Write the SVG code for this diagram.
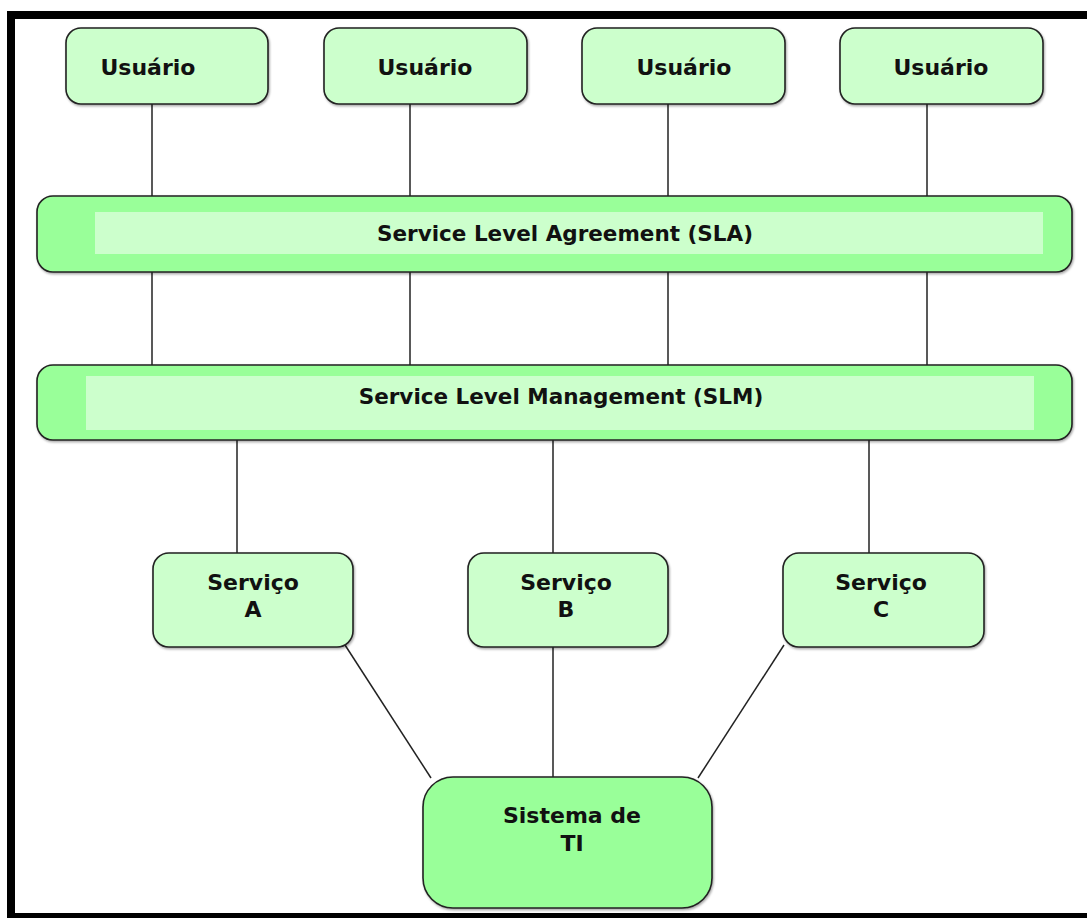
<svg xmlns="http://www.w3.org/2000/svg" width="1087" height="918" viewBox="0 0 1087 918">
  <defs>
    <filter id="shadow" x="-5%" y="-5%" width="110%" height="115%">
      <feDropShadow dx="1" dy="1.5" stdDeviation="1" flood-color="#000" flood-opacity="0.35"/>
    </filter>
    <style>
      .light { fill: #CCFFCC; stroke: #222; stroke-width: 1.6; filter: url(#shadow); }
      .dark { fill: #99FF99; stroke: #222; stroke-width: 1.6; filter: url(#shadow); }
      .inner { fill: #CCFFCC; stroke: none; }
      .lbl { font-family: "DejaVu Sans", Verdana, sans-serif; font-weight: bold; font-size: 22px; fill: #111; text-anchor: middle; }
      .bar { font-size: 21.5px; }
      .conn { stroke: #222; stroke-width: 1.5; fill: none; }
      .frame { stroke: #000; fill: none; }
    </style>
  </defs>

  <rect width="1087" height="918" fill="#fff"/>

  <!-- outer frame -->
  <path class="frame" d="M11 918 V15 H1087" stroke-width="8"/>
  <line class="frame" x1="11" y1="915.5" x2="1087" y2="915.5" stroke-width="5"/>

  <!-- connectors -->
  <g id="connectors">
    <line class="conn" x1="152" y1="104" x2="152" y2="196"/>
    <line class="conn" x1="410" y1="104" x2="410" y2="196"/>
    <line class="conn" x1="668" y1="104" x2="668" y2="196"/>
    <line class="conn" x1="927" y1="104" x2="927" y2="196"/>
    <line class="conn" x1="152" y1="272" x2="152" y2="365"/>
    <line class="conn" x1="410" y1="272" x2="410" y2="365"/>
    <line class="conn" x1="668" y1="272" x2="668" y2="365"/>
    <line class="conn" x1="927" y1="272" x2="927" y2="365"/>
    <line class="conn" x1="237" y1="440" x2="237" y2="553"/>
    <line class="conn" x1="553" y1="440" x2="553" y2="553"/>
    <line class="conn" x1="869" y1="440" x2="869" y2="553"/>
    <line class="conn" x1="345" y1="645" x2="431" y2="778"/>
    <line class="conn" x1="553" y1="647" x2="553" y2="777"/>
    <line class="conn" x1="784" y1="645" x2="698" y2="778"/>
  </g>

  <!-- users -->
  <g id="user1">
    <rect class="light" x="66" y="28" width="202" height="76" rx="15"/>
    <text class="lbl" x="148" y="75">Usuário</text>
  </g>
  <g id="user2">
    <rect class="light" x="324" y="28" width="203" height="76" rx="15"/>
    <text class="lbl" x="425" y="75">Usuário</text>
  </g>
  <g id="user3">
    <rect class="light" x="582" y="28" width="203" height="76" rx="15"/>
    <text class="lbl" x="684" y="75">Usuário</text>
  </g>
  <g id="user4">
    <rect class="light" x="840" y="28" width="203" height="76" rx="15"/>
    <text class="lbl" x="941" y="75">Usuário</text>
  </g>

  <!-- SLA -->
  <g id="sla">
    <rect class="dark" x="37" y="196" width="1035" height="76" rx="16"/>
    <rect class="inner" x="95" y="212" width="948" height="42"/>
    <text class="lbl bar" x="565" y="241">Service Level Agreement (SLA)</text>
  </g>

  <!-- SLM -->
  <g id="slm">
    <rect class="dark" x="37" y="365" width="1035" height="75" rx="16"/>
    <rect class="inner" x="86" y="376" width="948" height="54"/>
    <text class="lbl bar" x="561" y="404">Service Level Management (SLM)</text>
  </g>

  <!-- services -->
  <g id="serviceA">
    <rect class="light" x="153" y="553" width="200" height="94" rx="16"/>
    <text class="lbl" x="253" y="590">Serviço</text>
    <text class="lbl" x="253" y="617">A</text>
  </g>
  <g id="serviceB">
    <rect class="light" x="468" y="553" width="200" height="94" rx="16"/>
    <text class="lbl" x="566" y="590">Serviço</text>
    <text class="lbl" x="566" y="617">B</text>
  </g>
  <g id="serviceC">
    <rect class="light" x="783" y="553" width="201" height="94" rx="16"/>
    <text class="lbl" x="881" y="590">Serviço</text>
    <text class="lbl" x="881" y="617">C</text>
  </g>

  <!-- IT system -->
  <g id="sistema">
    <rect class="dark" x="423" y="777" width="289" height="131" rx="30"/>
    <text class="lbl" x="572" y="823">Sistema de</text>
    <text class="lbl" x="572" y="851">TI</text>
  </g>
</svg>
